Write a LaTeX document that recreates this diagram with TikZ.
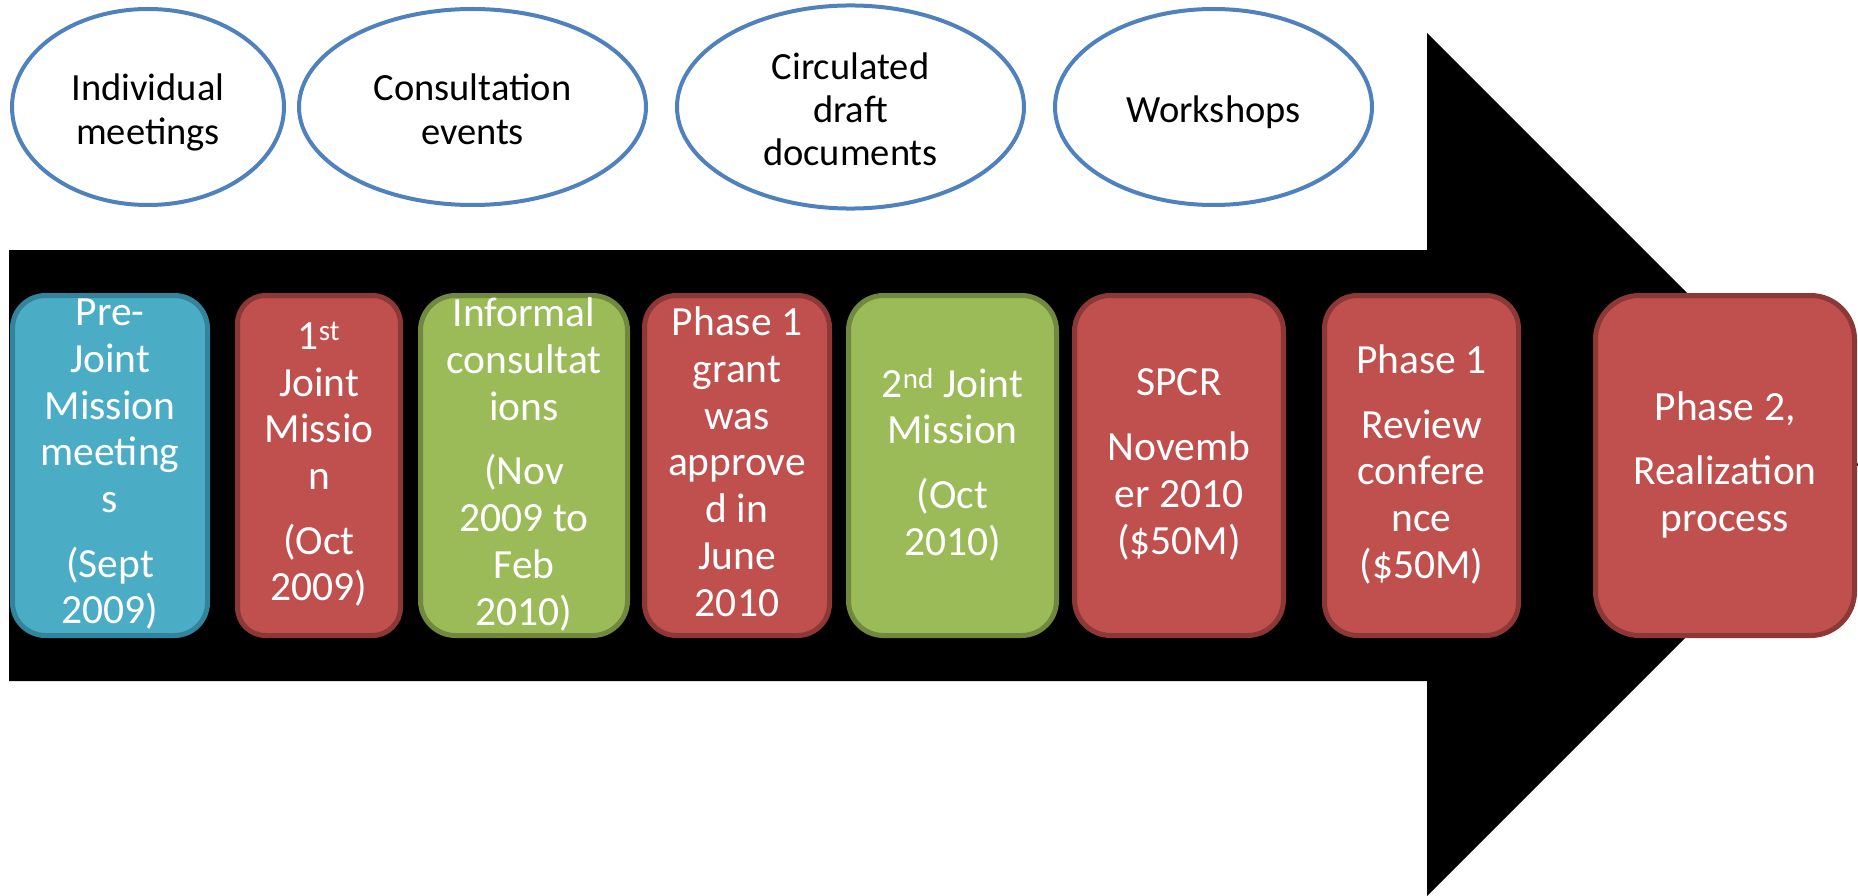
\documentclass[tikz,border=0pt]{standalone}
\usepackage{fontspec}
\setmainfont{Carlito}
\usetikzlibrary{shapes.geometric}
\definecolor{ellblue}{HTML}{4F81BD}
\definecolor{cardblue}{HTML}{4BACC6}
\definecolor{cardblueB}{HTML}{31849B}
\definecolor{cardred}{HTML}{C0504D}
\definecolor{cardredB}{HTML}{8C3836}
\definecolor{cardgreen}{HTML}{9BBB59}
\definecolor{cardgreenB}{HTML}{71893F}
\newcommand\ovaltopstrut{\rule{0pt}{44pt}}
\tikzset{
  oval/.style={ellipse, draw=ellblue, line width=4pt, fill=white, inner sep=0pt,
    minimum height=196pt, align=center, text=black,
    font=\fontsize{38.5}{43.3}\selectfont},
  card/.style={rectangle, line width=5pt, inner sep=0pt, minimum height=340pt},
  bluecard/.style={card, fill=cardblue, draw=cardblueB},
  redcard/.style={card, fill=cardred, draw=cardredB},
  greencard/.style={card, fill=cardgreen, draw=cardgreenB},
  cardtext/.style={text=white, align=center, inner sep=0pt, yshift=-3pt,
    font=\fontsize{41.5}{46.7}\selectfont,
    execute at begin node=\strut, execute at end node=\strut},
}
\begin{document}
\begin{tikzpicture}[x=1pt,y=-1pt]
\useasboundingbox (0,0) rectangle (1858,896);
% big arrow
\fill[black] (9,250) -- (1427,250) -- (1427,33) -- (1858.5,464.5) -- (1427,896)
  -- (1427,681) -- (9,681) -- cycle;
% ovals
\node[oval, minimum width=272pt] (e1) at (148,107) {\ovaltopstrut Individual\\meetings\strut};
\node[oval, minimum width=347pt] (e2) at (472.5,107) {\ovaltopstrut Consultation\\events\strut};
\node[oval, minimum width=347pt] (e3) at (850.5,107) {\ovaltopstrut Circulated\\draft\\documents\strut};
\node[oval, minimum width=317pt] (e4) at (1213.5,107) {\ovaltopstrut Workshops\strut};
% cards
\node[bluecard, minimum width=195pt, rounded corners=33pt] (b1) at (110,465.5) {};
\node[redcard, minimum width=163pt, rounded corners=28pt] (b2) at (319,465.5) {};
\node[greencard, minimum width=207pt, rounded corners=35pt] (b3) at (524,465.5) {};
\node[redcard, minimum width=185pt, rounded corners=32pt] (b4) at (737,465.5) {};
\node[greencard, minimum width=208pt, rounded corners=35pt] (b5) at (952.5,465.5) {};
\node[redcard, minimum width=209pt, rounded corners=36pt] (b6) at (1179,465.5) {};
\node[redcard, minimum width=194pt, rounded corners=33pt] (b7) at (1421.5,465.5) {};
\node[redcard, minimum width=259pt, rounded corners=44pt] (b8) at (1725,465.5) {};
% card texts
\node[cardtext] (t1) at (b1.center) {Pre-\\Joint\\Mission\\meeting\\s\\[18pt](Sept\\2009)};
\node[cardtext] (t2) at (b2.center) {1\textsuperscript{st}\\Joint\\Missio\\n\\[18pt](Oct\\2009)};
\node[cardtext] (t3) at (b3.center) {Informal\\consultat\\ions\\[18pt](Nov\\2009 to\\Feb\\2010)};
\node[cardtext] (t4) at (b4.center) {Phase 1\\grant\\was\\approve\\d in\\June\\2010};
\node[cardtext] (t5) at (b5.center) {2\textsuperscript{nd} Joint\\Mission\\[18pt](Oct\\2010)};
\node[cardtext] (t6) at (b6.center) {SPCR\\[18pt]Novemb\\er 2010\\(\$50M)};
\node[cardtext] (t7) at (b7.center) {Phase 1\\[18pt]Review\\confere\\nce\\(\$50M)};
\node[cardtext] (t8) at (b8.center) {Phase 2,\\[18pt]Realization\\process};
\end{tikzpicture}
\end{document}
